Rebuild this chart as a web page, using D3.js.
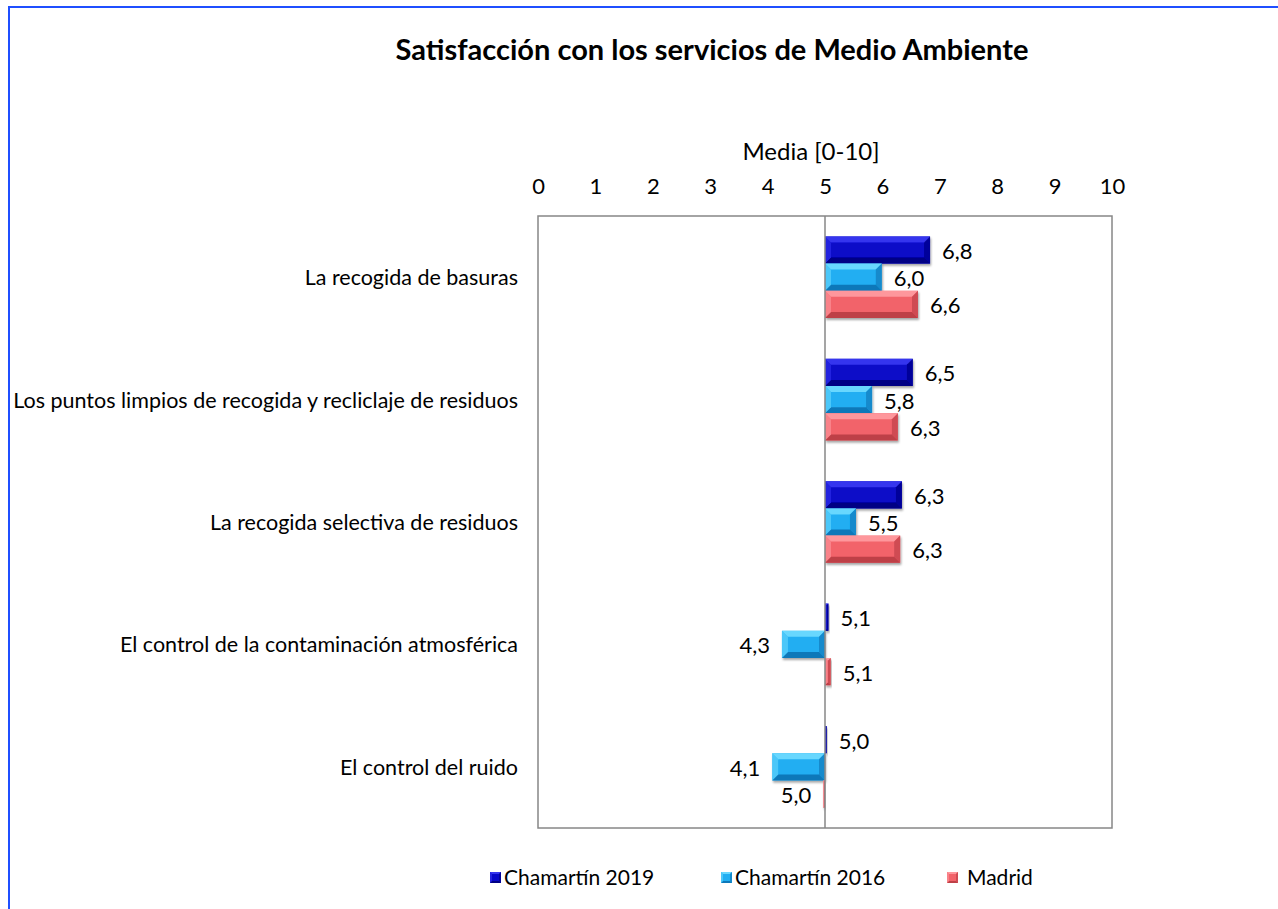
<!DOCTYPE html>
<html>
<head>
<meta charset="utf-8">
<script src="https://cdn.jsdelivr.net/npm/d3@7"></script>
<style>
  body { margin: 0; background: #fff; }
  text { font-family: Lato, "Open Sans", sans-serif; fill: #000; }
</style>
</head>
<body>
<div id="svg"></div>
<script>
var width = 1278;
var height = 909;

var categories = [
	'La recogida de basuras',
	'Los puntos limpios de recogida y recliclaje de residuos',
	'La recogida selectiva de residuos',
	'El control de la contaminación atmosférica',
	'El control del ruido'
];
var series_names = ['Chamartín 2019', 'Chamartín 2016', 'Madrid'];
var chamartin_2019 = [6.83, 6.53, 6.34, 5.06, 5.03];
var chamartin_2016 = [5.99, 5.82, 5.54, 4.25, 4.08];
var madrid = [6.62, 6.27, 6.31, 5.10, 4.97];
var x_ticks = [0, 1, 2, 3, 4, 5, 6, 7, 8, 9, 10];

// face, light edge, dark edge
var colors = [
	['#0808c8', '#3c3cf2', '#00007c'],
	['#20aef2', '#70dcff', '#0c72b2'],
	['#f2636a', '#ff9ca2', '#b83c44']
];

var plot = {left: 538, right: 1112, top: 216, bottom: 828};

var canvas = d3.select('#svg')
	.append('svg')
	.attr('width', width)
	.attr('height', height);

function main()
{
	var series = [chamartin_2019, chamartin_2016, madrid];

	// outer frame (only top and left visible)
	canvas.append('rect')
		.attr('x', 9).attr('y', 7)
		.attr('width', 1300).attr('height', 1000)
		.attr('fill', 'none')
		.attr('stroke', '#1f4fff')
		.attr('stroke-width', 2);

	canvas.append('text')
		.attr('x', 712).attr('y', 60)
		.attr('text-anchor', 'middle')
		.style('font-size', '29px')
		.style('font-weight', 'bold')
		.text('Satisfacción con los servicios de Medio Ambiente');

	var x = d3.scaleLinear().domain([0, 10]).range([plot.left, plot.right]);
	var y = d3.scaleBand().domain(categories).range([plot.top, plot.bottom]);
	var inner_pad = y.bandwidth() / 4.5;
	var y_inner = d3.scaleBand().domain(d3.range(3))
		.range([inner_pad * 0.75, y.bandwidth() - inner_pad * 0.75]);

	// plot frame
	canvas.append('rect')
		.attr('x', plot.left).attr('y', plot.top)
		.attr('width', plot.right - plot.left)
		.attr('height', plot.bottom - plot.top)
		.attr('fill', 'none')
		.attr('stroke', '#878787')
		.attr('stroke-width', 1.5);

	// top axis
	var axis = d3.axisTop(x).tickValues(x_ticks).tickSize(0).tickPadding(0)
		.tickFormat(d3.format('d'));
	var g_axis = canvas.append('g')
		.attr('transform', 'translate(0,' + 194 + ')')
		.call(axis);
	g_axis.select('.domain').remove();
	g_axis.selectAll('text')
		.style('font-size', '22px')
		.style('font-family', 'Lato, sans-serif')
		.attr('fill', '#000');

	canvas.append('text')
		.attr('x', 811).attr('y', 160)
		.attr('text-anchor', 'middle')
		.style('font-size', '24px')
		.text('Media [0-10]');

	// category labels
	canvas.selectAll('.cat')
		.data(categories)
		.enter().append('text')
		.attr('class', 'cat')
		.attr('x', 518)
		.attr('y', (d) => y(d) + y.bandwidth() / 2 + 8)
		.attr('text-anchor', 'end')
		.style('font-size', '21.5px')
		.text((d) => d);

	var defs = canvas.append('defs');
	var filter = defs.append('filter').attr('id', 'shadow')
		.attr('x', '-20%').attr('y', '-20%').attr('width', '140%').attr('height', '160%');
	filter.append('feDropShadow')
		.attr('dx', 1).attr('dy', 2).attr('stdDeviation', 1.2)
		.attr('flood-color', '#000').attr('flood-opacity', 0.35);

	var base = x(5);
	var fmt = (v) => v.toFixed(1).replace('.', ',');

	series.forEach(function(vals, s)
	{
		vals.forEach(function(v, i)
		{
			var x0 = Math.min(x(v), base);
			var w = Math.abs(x(v) - base);
			var by = y(categories[i]) + y_inner(s);
			var h = y_inner.bandwidth();
			draw_bar(x0, by, w, h, colors[s]);

			var lab = canvas.append('text')
				.attr('y', by + h / 2 + 9)
				.style('font-size', '22px')
				.text(fmt(v));
			if(v >= 5)
				lab.attr('x', x(v) + 12).attr('text-anchor', 'start');
			else
				lab.attr('x', x(v) - 12).attr('text-anchor', 'end');
		});
	});

	// reference line at 5
	canvas.append('line')
		.attr('x1', base).attr('x2', base)
		.attr('y1', plot.top).attr('y2', plot.bottom)
		.attr('stroke', '#878787')
		.attr('stroke-width', 1.5);

	// legend
	var legend_x = [490, 721, 947];
	var legend_text_x = [504, 735, 967];
	series_names.forEach(function(name, s)
	{
		draw_bar(legend_x[s], 872, 11, 11, colors[s], true);
		canvas.append('text')
			.attr('x', legend_text_x[s]).attr('y', 885)
			.style('font-size', '21px')
			.text(name);
	});
}

function draw_bar(x0, y0, w, h, c, flat)
{ // bevelled bar like the Excel 3D style
	var g = canvas.append('g');
	if(!flat) g.attr('filter', 'url(#shadow)');
	g.append('rect')
		.attr('x', x0).attr('y', y0).attr('width', w).attr('height', h)
		.attr('fill', c[0]);
	var b = Math.min(flat ? 2 : 6, w / 2, h / 2);
	if(w < 1) return;
	var x1 = x0 + w, y1 = y0 + h;
	var polys = [
		[[x0, y0], [x1, y0], [x1 - b, y0 + b], [x0 + b, y0 + b], c[1], 0.9],
		[[x0, y1], [x1, y1], [x1 - b, y1 - b], [x0 + b, y1 - b], c[2], 0.9],
		[[x0, y0], [x0 + b, y0 + b], [x0 + b, y1 - b], [x0, y1], c[1], 0.55],
		[[x1, y0], [x1 - b, y0 + b], [x1 - b, y1 - b], [x1, y1], c[2], 0.6]
	];
	polys.forEach(function(p)
	{
		g.append('polygon')
			.attr('points', p.slice(0, 4).map((q) => q.join(',')).join(' '))
			.attr('fill', p[4])
			.attr('fill-opacity', p[5]);
	});
}

main();
</script>
</body>
</html>
